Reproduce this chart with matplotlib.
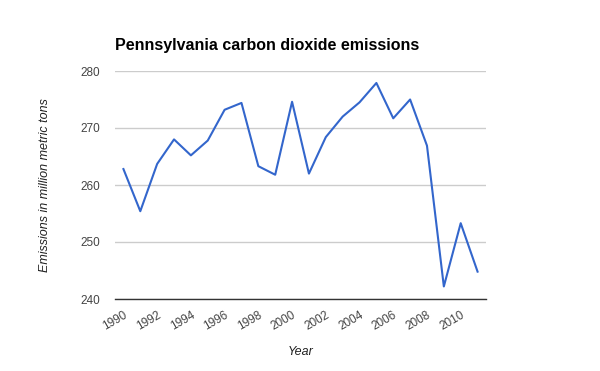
import matplotlib
matplotlib.use("Agg")
import matplotlib.pyplot as plt

plt.rcParams['font.family'] = ['Liberation Sans', 'DejaVu Sans']

# Pennsylvania CO2 emissions, million metric tons
years = list(range(1990, 2012))
emissions = [262.8, 255.4, 263.7, 268.0, 265.2, 267.8, 273.2, 274.4, 263.3, 261.8,
             274.6, 262.0, 268.4, 272.0, 274.5, 277.9, 271.7, 275.0, 266.9, 242.2,
             253.3, 244.8]
y_ticks = [240, 250, 260, 270, 280]

fig = plt.figure(figsize=(6, 3.71), dpi=100)
ax = fig.add_axes([115 / 600, 1 - 299 / 371, 371 / 600, 228 / 371])

ax.plot(years, emissions, color='#3366cc', linewidth=1.5)

ax.set_xlim(years[0] - 0.5, years[-1] + 0.5)
ax.set_ylim(240, 280)
ax.set_yticks(y_ticks)
ax.set_xticks(years[::2])
ax.set_xticklabels([str(y) for y in years[::2]], rotation=30, ha='right',
                   rotation_mode='anchor')

ax.grid(axis='y', color='#cccccc', linewidth=1)
ax.set_axisbelow(True)
for side in ['top', 'right', 'left']:
    ax.spines[side].set_visible(False)
ax.spines['bottom'].set_color('#333333')
ax.spines['bottom'].set_linewidth(1)
ax.tick_params(axis='both', length=0, labelsize=8.5, labelcolor='#444444')
ax.tick_params(axis='y', pad=11)
ax.tick_params(axis='x', pad=7)

ax.set_title('Pennsylvania carbon dioxide emissions', loc='left', fontsize=11.5,
             fontweight='bold', x=0, y=1.055)
ax.set_xlabel('Year', fontstyle='italic', fontsize=9, color='#222222', labelpad=10)
ax.set_ylabel('Emissions in million metric tons', fontstyle='italic', fontsize=9,
              color='#222222', labelpad=21)

fig.savefig('out.png', dpi=100)
